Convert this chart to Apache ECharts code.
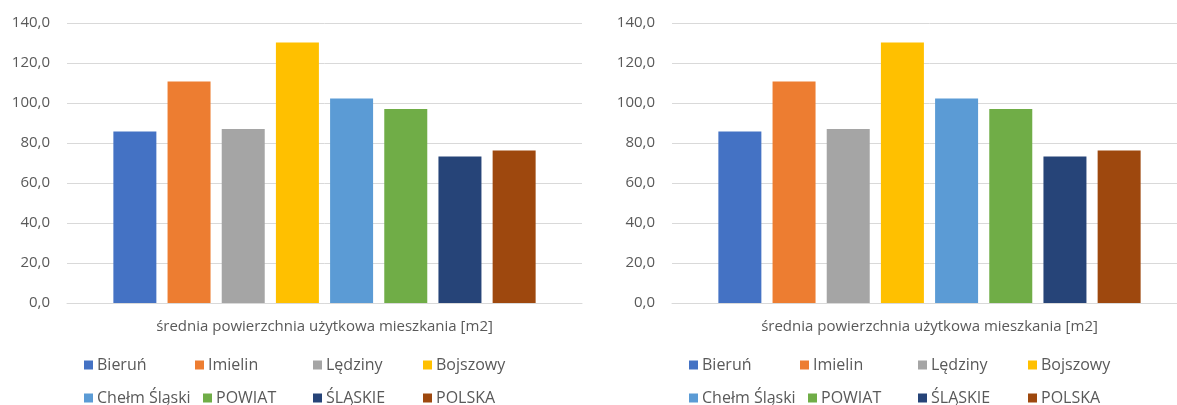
<!DOCTYPE html>
<html>
<head>
<meta charset="utf-8">
<script src="https://cdn.jsdelivr.net/npm/echarts@6/dist/echarts.min.js"></script>
<style>
  html, body { margin: 0; padding: 0; background: #fff; width: 1177px; height: 405px; overflow: hidden; position: relative; }
  .c { position: absolute; top: 0; width: 605px; height: 405px; }
</style>
</head>
<body>
<div id="wrap" style="position:absolute;left:0;top:0;width:1177px;height:405px;overflow:hidden;">
  <div id="c1" class="c" style="left:0;"></div>
  <div id="c2" class="c" style="left:605px;"></div>
</div>
<script>
// Data
const categories = ['średnia powierzchnia użytkowa mieszkania [m2]'];
const seriesNames = ['Bieruń', 'Imielin', 'Lędziny', 'Bojszowy', 'Chełm Śląski', 'POWIAT', 'ŚLĄSKIE', 'POLSKA'];
const seriesValues = [85.7, 110.7, 87.0, 130.2, 102.3, 97.0, 73.2, 76.3];
const seriesColors = ['#4472C4', '#ED7D31', '#A5A5A5', '#FFC000', '#5B9BD5', '#70AD47', '#264478', '#9E480E'];
const yTicks = [0, 20, 40, 60, 80, 100, 120, 140];

// Layout (styles)
const legendLeft = [84, 195, 313, 423, 84, 203, 313, 423];
const legendTop = [357, 357, 357, 357, 390, 390, 390, 390];
const FONT = '"Open Sans", "Noto Sans", sans-serif';
const TXT = '#595959';

function buildOption() {
  const legends = seriesNames.map((n, i) => ({
    data: [n],
    left: legendLeft[i],
    top: legendTop[i],
    padding: 0,
    itemWidth: 9,
    itemHeight: 9,
    itemGap: 0,
    selectedMode: false,
    icon: 'rect',
    textStyle: { color: TXT, fontSize: 16, fontFamily: FONT, padding: [0, 0, 0, -1] }
  }));
  return {
    animation: false,
    backgroundColor: '#fff',
    grid: { left: 67, top: 23, width: 515, height: 280, containLabel: false },
    legend: legends,
    xAxis: {
      type: 'category',
      data: categories,
      axisLine: { show: true, lineStyle: { color: '#D9D9D9', width: 1 } },
      axisTick: { show: false },
      axisLabel: { color: TXT, fontSize: 15, fontFamily: FONT, margin: 16 }
    },
    yAxis: {
      type: 'value',
      min: yTicks[0],
      max: yTicks[yTicks.length - 1],
      interval: yTicks[1] - yTicks[0],
      axisLine: { show: false },
      axisTick: { show: false },
      splitLine: { lineStyle: { color: '#D9D9D9', width: 1 } },
      axisLabel: {
        color: TXT, fontSize: 15, fontFamily: FONT, margin: 17,
        formatter: v => v.toFixed(1).replace('.', ',')
      }
    },
    series: seriesNames.map((n, i) => ({
      name: n,
      type: 'bar',
      data: [seriesValues[i]],
      barWidth: 43,
      barGap: '26%',
      itemStyle: { color: seriesColors[i] }
    }))
  };
}

['c1', 'c2'].forEach(id => {
  const chart = echarts.init(document.getElementById(id), null, { renderer: 'canvas' });
  chart.setOption(buildOption());
});
</script>
</body>
</html>
